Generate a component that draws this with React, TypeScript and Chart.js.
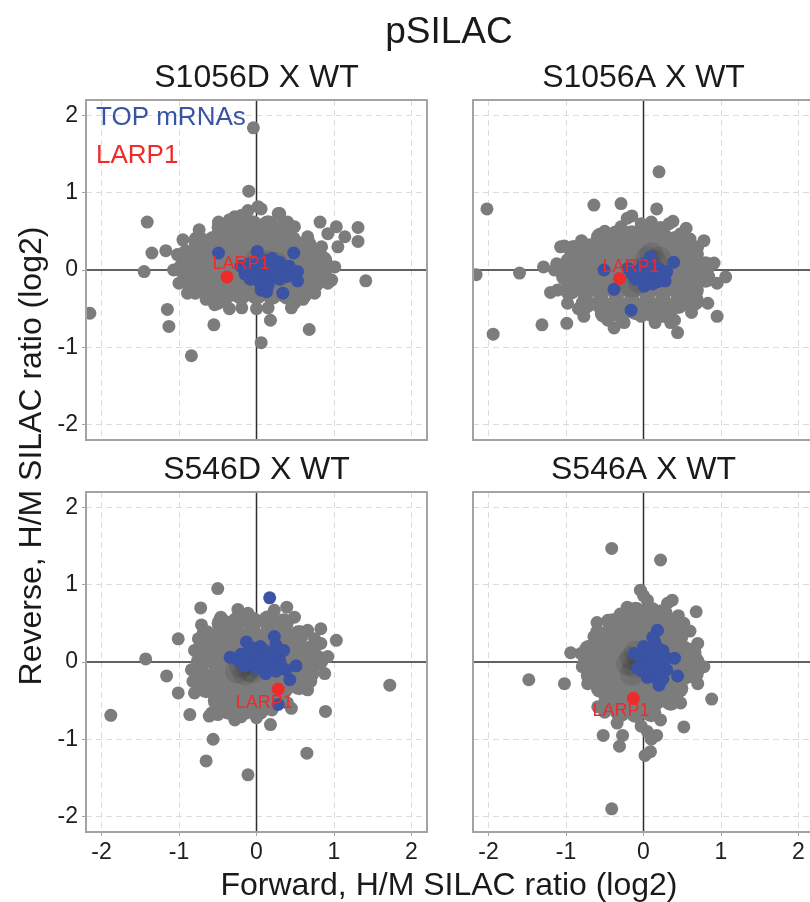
import React, { useEffect, useRef } from "react";
import { Chart, registerables } from "chart.js";
Chart.register(...registerables);

type P = [number, number];

const FONT = '"Liberation Sans", Arial, Helvetica, sans-serif';
const GRAY = "#7c7c7c";
const BLUE = "#3a53a4";
const RED = "#ee2b2b";

const figureTitle = "pSILAC";
const xAxisTitle = "Forward, H/M SILAC ratio (log2)";
const yAxisTitle = "Reverse, H/M SILAC ratio (log2)";
const panelTitles = ["S1056D X WT", "S1056A X WT", "S546D X WT", "S546A X WT"];
const axisTicks = [-2, -1, 0, 1, 2];
const axisRange = [-2.2, 2.2];
const legendLabels = ["TOP mRNAs", "LARP1"];
const larpName = "LARP1";

// ---------- S1056D X WT ----------
const s1056dOuter: P[] = [
  [-0.04, 1.84], [-0.1, 1.02], [-1.41, 0.62], [-1.35, 0.22], [-1.17, 0.25], [-1.45, -0.02], [-2.15, -0.56],
  [-1.15, -0.51], [-1.13, -0.73], [-0.55, -0.71], [-0.84, -1.11], [0.06, -0.94], [0.18, -0.65], [0.68, -0.77],
  [0.45, -0.49], [1.41, -0.14], [1.31, 0.55], [1.31, 0.37], [1.14, 0.43], [1.03, 0.56], [0.82, 0.62], [0.92, 0.47],
  [1.05, 0.3], [0.3, 0.73], [0.02, 0.82], [-0.19, 0.71], [-0.49, 0.62], [-0.95, 0.39], [-0.89, -0.3], [-0.54, -0.45],
  [-0.19, -0.49], [0.97, -0.13], [0.84, 0.13],
  [-1.07, 0.0], [-1.02, 0.2], [-0.74, 0.52], [-0.28, 0.69], [-0.11, 0.77], [0.06, 0.79], [0.28, 0.73], [0.49, 0.56],
  [0.66, 0.43], [0.84, 0.3], [1.01, 0.04], [0.92, -0.17], [0.75, -0.3], [0.49, -0.43], [0.15, -0.49], [-0.49, -0.43],
  [-0.79, -0.3], [-1.0, -0.17], [-0.35, 0.65], [0.4, 0.62], [0.6, -0.38], [-0.65, -0.38], [0.0, -0.5], [-0.35, -0.5],
];
const s1056dFill: P[] = [
  [-0.45, 0.55], [-0.25, 0.55], [-0.05, 0.58], [0.15, 0.58], [0.35, 0.55],
  [-0.75, 0.38], [-0.55, 0.38], [-0.35, 0.38], [-0.15, 0.38], [0.05, 0.38], [0.25, 0.38], [0.45, 0.38], [0.65, 0.32],
  [-0.9, 0.2], [-0.7, 0.2], [-0.5, 0.2], [-0.3, 0.2], [-0.1, 0.2], [0.1, 0.2], [0.3, 0.2], [0.5, 0.2], [0.7, 0.18], [0.85, 0.12],
  [-0.95, 0.02], [-0.75, 0.02], [-0.55, 0.02], [-0.35, 0.02], [-0.15, 0.02], [0.05, 0.02], [0.25, 0.02], [0.45, 0.02], [0.65, 0.02], [0.85, 0.0],
  [-0.85, -0.16], [-0.65, -0.16], [-0.45, -0.16], [-0.25, -0.16], [-0.05, -0.16], [0.15, -0.16], [0.35, -0.16], [0.55, -0.16], [0.75, -0.16],
  [-0.6, -0.32], [-0.4, -0.32], [-0.2, -0.32], [0.0, -0.32], [0.2, -0.32], [0.4, -0.32], [0.6, -0.3],
];
const s1056dCore: P[] = [
  [0.05, 0.05], [0.15, 0.1], [0.2, 0.0], [-0.05, -0.05], [0.1, -0.05], [0.25, 0.08], [0.0, 0.12], [0.3, -0.05],
];
const s1056dTop: P[] = [
  [-0.49, 0.22], [0.01, 0.24], [0.48, 0.22], [0.53, -0.02], [0.53, -0.14], [0.34, -0.3], [0.06, -0.26], [0.13, -0.28],
  [-0.15, -0.05], [-0.05, 0.05], [0.05, 0.0], [0.15, 0.05], [0.25, -0.02], [0.35, 0.02], [0.1, -0.12], [0.2, -0.1],
  [0.0, -0.1], [-0.1, 0.08], [0.3, 0.1], [0.4, -0.08], [0.22, 0.1], [-0.2, 0.05], [0.12, 0.12], [0.05, -0.18],
  [-0.08, -0.12], [0.3, -0.12], [0.42, 0.05], [0.05, 0.12], [-0.12, 0.0], [0.2, 0.15], [0.15, -0.2], [0.25, 0.02],
];
const s1056dLarp1: P = [-0.38, -0.09];
const s1056dLabel: P = [-0.2, 0.08];

// ---------- S1056A X WT ----------
const s1056aOuter: P[] = [
  [0.2, 1.27], [-2.02, 0.79], [-0.64, 0.84], [-0.29, 0.86], [0.17, 0.79], [-2.16, -0.06], [-1.6, -0.04], [-1.29, 0.04],
  [-1.12, 0.08], [-1.02, 0.31], [-1.2, -0.29], [-1.31, -0.71], [-1.94, -0.83], [-0.99, -0.69], [-0.38, -0.75],
  [0.44, -0.81], [0.95, -0.6], [1.06, -0.09], [0.78, 0.38], [0.55, 0.54], [0.38, 0.63], [-0.21, 0.67], [-0.15, 0.7],
  [0.25, -0.6], [0.35, -0.68],
  [-1.07, 0.3], [-0.8, 0.38], [-0.55, 0.45], [-0.29, 0.56], [-0.03, 0.6], [0.22, 0.55], [0.48, 0.47], [0.7, 0.3],
  [0.91, 0.09], [0.95, -0.17], [0.83, -0.43], [0.62, -0.55], [0.4, -0.65], [0.15, -0.68], [-0.03, -0.6], [-0.25, -0.68],
  [-0.46, -0.65], [-0.77, -0.6], [-0.98, -0.43], [-1.11, -0.26], [-1.15, 0.0], [-0.84, -0.5], [0.6, 0.4],
  [-0.5, 0.5], [0.1, 0.62], [0.33, 0.6],
];
const s1056aFill: P[] = [
  [-0.55, 0.42], [-0.35, 0.45], [-0.15, 0.45], [0.05, 0.45], [0.25, 0.42], [0.42, 0.38],
  [-0.9, 0.26], [-0.7, 0.28], [-0.5, 0.28], [-0.3, 0.28], [-0.1, 0.28], [0.1, 0.28], [0.3, 0.28], [0.5, 0.26], [0.65, 0.2],
  [-0.95, 0.1], [-0.75, 0.1], [-0.55, 0.1], [-0.35, 0.1], [-0.15, 0.1], [0.05, 0.1], [0.25, 0.1], [0.45, 0.1], [0.65, 0.1], [0.8, 0.05],
  [-1.0, -0.08], [-0.8, -0.08], [-0.6, -0.08], [-0.4, -0.08], [-0.2, -0.08], [0.0, -0.08], [0.2, -0.08], [0.4, -0.08], [0.6, -0.08], [0.8, -0.1],
  [-0.95, -0.26], [-0.75, -0.26], [-0.55, -0.26], [-0.35, -0.26], [-0.15, -0.26], [0.05, -0.26], [0.25, -0.26], [0.45, -0.26], [0.65, -0.26],
  [-0.75, -0.44], [-0.55, -0.44], [-0.35, -0.44], [-0.15, -0.44], [0.05, -0.44], [0.25, -0.44], [0.45, -0.44], [0.65, -0.4],
  [-0.5, -0.56], [-0.3, -0.56], [-0.1, -0.52], [0.1, -0.54], [0.3, -0.56],
];
const s1056aCore: P[] = [
  [0.05, 0.15], [0.15, 0.1], [-0.05, -0.15], [-0.15, -0.2], [0.1, 0.2], [-0.1, 0.0], [0.2, 0.15],
];
const s1056aTop: P[] = [
  [0.39, 0.1], [0.09, 0.17], [-0.16, -0.52], [-0.38, -0.25], [0.01, -0.21], [-0.51, 0.0], [-0.15, -0.05],
  [-0.05, 0.0], [0.05, -0.08], [0.15, -0.05], [0.25, -0.1], [0.1, 0.05], [0.2, 0.02], [-0.1, -0.12], [0.3, -0.02],
  [0.0, 0.08], [0.18, -0.15], [-0.2, 0.02], [0.12, -0.18], [0.28, -0.14], [0.05, -0.15], [-0.05, -0.08], [0.22, -0.06],
];
const s1056aLarp1: P = [-0.31, -0.11];
const s1056aLabel: P = [-0.16, 0.04];

// ---------- S546D X WT ----------
const s546dOuter: P[] = [
  [-0.5, 0.95], [-0.72, 0.7], [-0.24, 0.68], [0.39, 0.71], [-1.01, 0.3], [-1.43, 0.04], [-1.16, -0.18], [-1.01, -0.4],
  [-1.88, -0.69], [-0.86, -0.68], [-0.56, -1.0], [-0.65, -1.28], [-0.11, -1.46], [0.18, -0.81], [0.65, -1.18],
  [0.89, -0.64], [0.45, -0.6], [1.72, -0.3], [1.03, 0.28], [0.83, 0.43], [0.88, -0.15], [-0.2, -0.71], [-0.61, -0.7],
  [-0.8, 0.15], [-0.71, 0.48], [-0.46, 0.58], [-0.11, 0.63], [0.23, 0.67], [0.49, 0.58], [0.66, 0.41], [0.83, 0.24],
  [0.92, 0.07], [0.66, -0.36], [0.4, -0.53], [0.06, -0.66], [-0.28, -0.75], [-0.58, -0.66], [-0.8, -0.4], [-0.84, -0.1],
  [-0.4, -0.65], [-0.5, -0.68], [0.0, -0.72], [-0.82, -0.25], [-0.75, 0.3], [0.75, 0.3], [0.7, -0.25], [0.2, -0.62],
];
const s546dFill: P[] = [
  [-0.45, 0.5], [-0.25, 0.52], [-0.05, 0.52], [0.15, 0.54], [0.35, 0.5],
  [-0.65, 0.35], [-0.45, 0.35], [-0.25, 0.35], [-0.05, 0.35], [0.15, 0.35], [0.35, 0.35], [0.55, 0.35],
  [-0.7, 0.17], [-0.5, 0.17], [-0.3, 0.17], [-0.1, 0.17], [0.1, 0.17], [0.3, 0.17], [0.5, 0.17], [0.7, 0.15],
  [-0.72, 0.0], [-0.52, 0.0], [-0.32, 0.0], [-0.12, 0.0], [0.08, 0.0], [0.28, 0.0], [0.48, 0.0], [0.68, 0.0], [0.8, 0.02],
  [-0.72, -0.17], [-0.52, -0.17], [-0.32, -0.17], [-0.12, -0.17], [0.08, -0.17], [0.28, -0.17], [0.48, -0.17], [0.68, -0.15],
  [-0.65, -0.34], [-0.45, -0.34], [-0.25, -0.34], [-0.05, -0.34], [0.15, -0.34], [0.35, -0.34], [0.55, -0.3],
  [-0.5, -0.5], [-0.3, -0.5], [-0.1, -0.5], [0.1, -0.5], [0.3, -0.46],
  [-0.35, -0.62], [-0.15, -0.62], [0.05, -0.6],
];
const s546dCore: P[] = [
  [-0.1, -0.1], [-0.15, -0.15], [-0.05, -0.12], [0.0, -0.05], [-0.2, -0.05], [-0.25, -0.12],
];
const s546dTop: P[] = [
  [0.17, 0.83], [-0.34, 0.06], [-0.13, 0.26], [0.23, 0.33], [0.51, -0.05], [0.43, -0.23], [0.28, -0.55],
  [-0.2, 0.1], [-0.1, 0.0], [0.0, 0.1], [0.1, 0.0], [0.2, 0.12], [0.3, 0.02], [0.35, 0.15], [0.15, -0.1],
  [0.0, -0.08], [-0.15, -0.05], [0.25, -0.12], [0.05, 0.2], [-0.05, 0.18], [0.38, -0.1], [0.1, 0.15], [0.2, -0.02],
  [-0.22, 0.0], [0.05, 0.02], [0.25, 0.22], [0.12, -0.15], [0.32, -0.05], [-0.1, 0.12], [0.15, 0.08],
];
const s546dLarp1: P = [0.28, -0.35];
const s546dLabel: P = [0.1, -0.53];

// ---------- S546A X WT ----------
const s546aOuter: P[] = [
  [-0.41, 1.47], [0.22, 1.32], [-0.04, 0.93], [0.68, 0.65], [-0.38, 0.52], [-0.6, 0.51], [-0.94, 0.12], [-1.48, -0.23],
  [-1.02, -0.28], [0.88, -0.48], [0.52, -0.84], [-0.52, -0.95], [-0.27, -0.95], [-0.31, -1.09], [0.02, -1.21],
  [0.09, -1.16], [0.17, -0.95], [-0.41, -1.9], [0.37, 0.8],
  [-0.81, 0.11], [-0.64, 0.33], [-0.46, 0.54], [-0.21, 0.71], [0.05, 0.8], [0.31, 0.76], [0.52, 0.5], [0.7, 0.24],
  [0.78, -0.06], [0.7, -0.28], [0.48, -0.53], [0.22, -0.75], [-0.03, -0.83], [-0.34, -0.79], [-0.59, -0.58],
  [-0.72, -0.28], [-0.79, -0.06], [0.05, -0.9], [0.1, -1.0], [-0.5, -0.65], [-0.6, 0.4], [0.6, 0.4], [0.45, 0.6],
  [-0.3, 0.62], [0.0, 0.86],
];
const s546aFill: P[] = [
  [-0.1, 0.65], [0.1, 0.65], [0.25, 0.62],
  [-0.4, 0.5], [-0.2, 0.5], [0.0, 0.5], [0.2, 0.5], [0.4, 0.48],
  [-0.55, 0.33], [-0.35, 0.33], [-0.15, 0.33], [0.05, 0.33], [0.25, 0.33], [0.45, 0.33],
  [-0.7, 0.16], [-0.5, 0.16], [-0.3, 0.16], [-0.1, 0.16], [0.1, 0.16], [0.3, 0.16], [0.5, 0.16], [0.62, 0.12],
  [-0.72, 0.0], [-0.52, 0.0], [-0.32, 0.0], [-0.12, 0.0], [0.08, 0.0], [0.28, 0.0], [0.48, 0.0], [0.66, 0.0],
  [-0.68, -0.17], [-0.48, -0.17], [-0.28, -0.17], [-0.08, -0.17], [0.12, -0.17], [0.32, -0.17], [0.52, -0.17], [0.65, -0.15],
  [-0.55, -0.34], [-0.35, -0.34], [-0.15, -0.34], [0.05, -0.34], [0.25, -0.34], [0.45, -0.34],
  [-0.45, -0.5], [-0.25, -0.5], [-0.05, -0.5], [0.15, -0.5], [0.35, -0.5],
  [-0.3, -0.65], [-0.1, -0.66], [0.1, -0.65],
];
const s546aCore: P[] = [
  [-0.15, 0.05], [-0.12, -0.05], [-0.1, 0.12], [-0.2, -0.02], [-0.05, 0.0], [-0.15, -0.15],
];
const s546aTop: P[] = [
  [0.18, 0.41], [0.4, 0.05], [0.44, -0.18], [0.2, -0.3], [-0.12, 0.11], [-0.08, -0.08],
  [0.0, 0.0], [0.1, 0.1], [0.2, 0.0], [0.1, -0.1], [0.0, 0.2], [0.15, 0.25], [0.25, 0.15], [0.05, -0.2],
  [0.3, -0.1], [-0.05, 0.08], [0.15, -0.2], [0.12, 0.32], [0.22, -0.15], [0.08, 0.05],
  [0.05, 0.12], [0.2, 0.08], [0.3, 0.05], [-0.02, -0.12], [0.12, -0.02], [0.25, -0.22], [0.18, 0.18],
];
const s546aLarp1: P = [-0.13, -0.47];
const s546aLabel: P = [-0.29, -0.64];

type PanelCfg = {
  title: string;
  outer: P[];
  fill: P[];
  core: P[];
  top: P[];
  larp: P;
  label: P;
  left: number;
  topPx: number;
  showX: boolean;
  showY: boolean;
  legend: boolean;
};

const panels: PanelCfg[] = [
  { title: panelTitles[0], outer: s1056dOuter, fill: s1056dFill, core: s1056dCore, top: s1056dTop, larp: s1056dLarp1, label: s1056dLabel, left: 40, topPx: 50, showX: false, showY: true, legend: true },
  { title: panelTitles[1], outer: s1056aOuter, fill: s1056aFill, core: s1056aCore, top: s1056aTop, larp: s1056aLarp1, label: s1056aLabel, left: 427, topPx: 50, showX: false, showY: false, legend: false },
  { title: panelTitles[2], outer: s546dOuter, fill: s546dFill, core: s546dCore, top: s546dTop, larp: s546dLarp1, label: s546dLabel, left: 40, topPx: 442, showX: true, showY: true, legend: false },
  { title: panelTitles[3], outer: s546aOuter, fill: s546aFill, core: s546aCore, top: s546aTop, larp: s546aLarp1, label: s546aLabel, left: 427, topPx: 442, showX: true, showY: false, legend: false },
];

const toXY = (a: P[]) => a.map(([x, y]) => ({ x, y }));

function makeDeco(p: PanelCfg) {
  return {
    id: "deco",
    beforeDatasetsDraw(chart: any) {
      const { ctx, chartArea: a, scales } = chart;
      const x0 = scales.x.getPixelForValue(0);
      const y0 = scales.y.getPixelForValue(0);
      ctx.save();
      ctx.strokeStyle = "#2e2e2e";
      ctx.lineWidth = 1.5;
      ctx.beginPath();
      ctx.moveTo(x0, a.top);
      ctx.lineTo(x0, a.bottom);
      ctx.moveTo(a.left, y0);
      ctx.lineTo(a.right, y0);
      ctx.stroke();
      ctx.restore();
    },
    afterDatasetsDraw(chart: any) {
      const { ctx, chartArea: a, scales } = chart;
      ctx.save();
      ctx.strokeStyle = "#a3a3a3";
      ctx.lineWidth = 2;
      ctx.strokeRect(a.left, a.top, a.right - a.left, a.bottom - a.top);
      ctx.fillStyle = RED;
      ctx.font = `18px ${FONT}`;
      ctx.textAlign = "center";
      ctx.textBaseline = "middle";
      ctx.fillText(larpName, scales.x.getPixelForValue(p.label[0]), scales.y.getPixelForValue(p.label[1]));
      if (p.legend) {
        ctx.textAlign = "left";
        ctx.textBaseline = "alphabetic";
        ctx.font = `26px ${FONT}`;
        ctx.fillStyle = BLUE;
        ctx.fillText(legendLabels[0], a.left + 10, a.top + 25);
        ctx.fillStyle = RED;
        ctx.fillText(legendLabels[1], a.left + 10, a.top + 63);
      }
      ctx.fillStyle = "#1a1a1a";
      ctx.font = `32px ${FONT}`;
      ctx.textAlign = "center";
      ctx.textBaseline = "middle";
      ctx.fillText(p.title, (a.left + a.right) / 2, a.top - 21.5);
      ctx.restore();
    },
  };
}

function Panel({ p }: { p: PanelCfg }) {
  const ref = useRef<HTMLCanvasElement>(null);
  const width = 400;
  const height = p.showX ? 430 : 420;
  useEffect(() => {
    const gridColor = (c: any) => (c.tick && c.tick.value === 0 ? "rgba(0,0,0,0)" : "#dcdcdc");
    const setTicks = (s: any) => {
      s.ticks = axisTicks.map((v) => ({ value: v }));
    };
    const chart = new Chart(ref.current!, {
      type: "scatter",
      data: {
        datasets: [
          { data: toXY([p.larp]), backgroundColor: RED, pointRadius: 6.5, pointHoverRadius: 6.5, borderWidth: 0, order: 0 },
          { data: toXY(p.top), backgroundColor: BLUE, pointRadius: 6.5, pointHoverRadius: 6.5, borderWidth: 0, order: 1 },
          { data: toXY(p.core), backgroundColor: "rgba(25,25,25,0.11)", pointRadius: 12, pointHoverRadius: 12, borderWidth: 0, order: 2 },
          { data: toXY(p.fill), backgroundColor: GRAY, pointRadius: 10, pointHoverRadius: 10, borderWidth: 0, order: 3 },
          { data: toXY(p.outer), backgroundColor: GRAY, pointRadius: 6.5, pointHoverRadius: 6.5, borderWidth: 0, order: 4 },
        ] as any,
      },
      options: {
        animation: false,
        responsive: false,
        devicePixelRatio: 1,
        events: [],
        layout: { padding: { top: 50, right: 13, left: 0, bottom: 0 } },
        plugins: { legend: { display: false }, tooltip: { enabled: false }, title: { display: false } },
        scales: {
          x: {
            type: "linear",
            min: axisRange[0],
            max: axisRange[1],
            afterBuildTicks: setTicks,
            afterFit: (s: any) => {
              s.height = p.showX ? 40 : 30;
            },
            grid: { color: gridColor, lineWidth: 1, drawTicks: p.showX, tickLength: 4, tickColor: "#a3a3a3", tickWidth: 1 },
            border: { display: false, dash: [6, 4] },
            ticks: { display: p.showX, color: "#1e1e1e", font: { size: 23, family: FONT }, padding: 3, maxRotation: 0, autoSkip: false },
          },
          y: {
            type: "linear",
            min: axisRange[0],
            max: axisRange[1],
            afterBuildTicks: setTicks,
            afterFit: (s: any) => {
              s.width = 46;
            },
            grid: { color: gridColor, lineWidth: 1, drawTicks: p.showY, tickLength: 4, tickColor: "#a3a3a3", tickWidth: 1 },
            border: { display: false, dash: [6, 4] },
            ticks: { display: p.showY, color: "#1e1e1e", font: { size: 23, family: FONT }, padding: 4, autoSkip: false },
          },
        },
      } as any,
      plugins: [makeDeco(p)],
    });
    return () => chart.destroy();
  }, []);
  return (
    <canvas
      ref={ref}
      width={width}
      height={height}
      style={{ position: "absolute", left: p.left, top: p.topPx, width, height }}
    />
  );
}

export default function App() {
  return (
    <div
      style={{
        position: "fixed",
        left: 0,
        top: 0,
        width: 810,
        height: 902,
        overflow: "hidden",
        background: "#fff",
        fontFamily: FONT,
        color: "#1a1a1a",
      }}
    >
      {panels.map((p, i) => (
        <Panel key={i} p={p} />
      ))}
      <div style={{ position: "absolute", left: 249, top: 12, width: 400, textAlign: "center", fontSize: 37, lineHeight: "37px" }}>
        {figureTitle}
      </div>
      <div style={{ position: "absolute", left: 149, top: 868, width: 600, textAlign: "center", fontSize: 32, lineHeight: "32px" }}>
        {xAxisTitle}
      </div>
      <div
        style={{
          position: "absolute",
          left: 30,
          top: 456,
          width: 600,
          textAlign: "center",
          fontSize: 32,
          lineHeight: "32px",
          transform: "translate(-50%, -50%) rotate(-90deg)",
          whiteSpace: "nowrap",
        }}
      >
        {yAxisTitle}
      </div>
    </div>
  );
}
